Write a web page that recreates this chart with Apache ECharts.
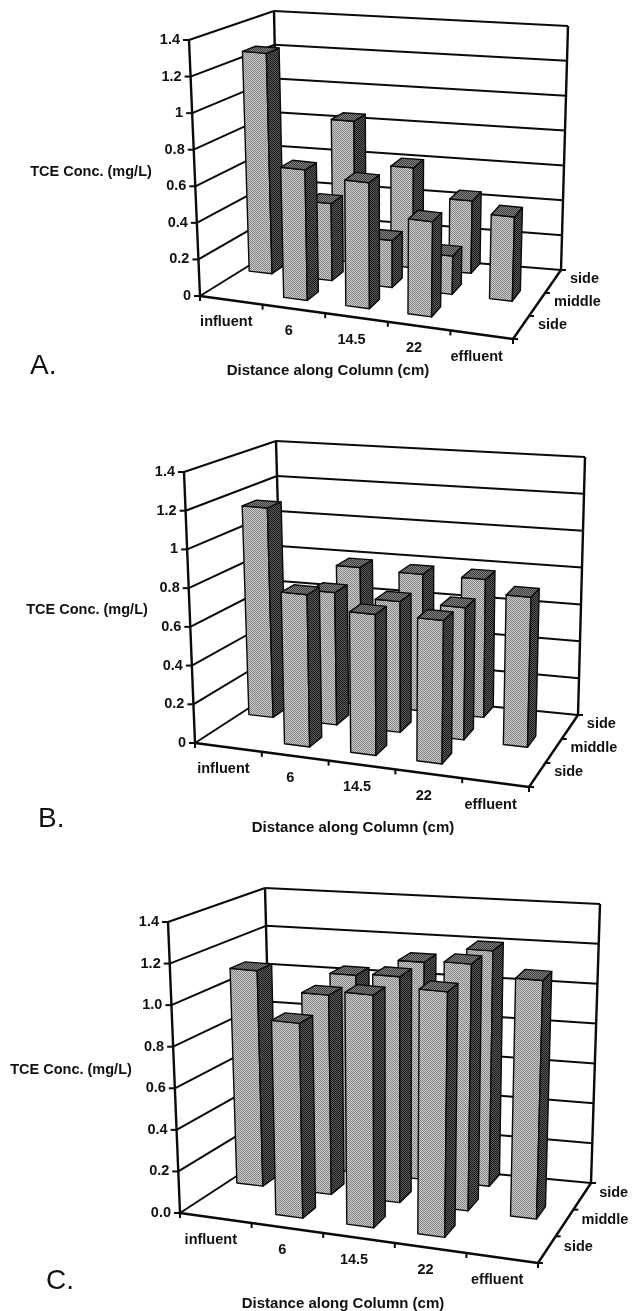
<!DOCTYPE html>
<html><head><meta charset="utf-8">
<style>html,body{margin:0;padding:0;background:#fff}#c{width:632px;height:1311px}</style>
<script src="https://cdn.jsdelivr.net/npm/echarts@6/dist/echarts.min.js"></script>
</head><body><div id="c"></div>
<script>
const categories=['influent','6','14.5','22','effluent'];
const depthLabels=['side','middle','side'];
const yLabelsAB=['0','0.2','0.4','0.6','0.8','1','1.2','1.4'];
const yLabelsC=['0.0','0.2','0.4','0.6','0.8','1.0','1.2','1.4'];
const xTitle='Distance along Column (cm)';
const yTitle='TCE Conc. (mg/L)';

// values by depth row, mg/L
const panelA_back  =[null,0.81,0.57,0.41,null];
const panelA_middle=[1.24,0.43,0.26,0.21,0.46];
const panelA_front =[null,0.71,0.68,0.51,null];
const panelB_back  =[null,0.75,0.74,0.74,null];
const panelB_middle=[1.12,0.70,0.685,0.685,0.77];
const panelB_front =[null,0.78,0.715,0.72,null];
const panelC_back  =[null,1.00,1.09,1.17,null];
const panelC_middle=[1.07,0.98,1.10,1.19,1.14];
const panelC_front =[null,0.93,1.10,1.15,null];

// frame corners of each drawn box: front/back, left/right, bottom/top
const frames=[
 {name:'A.',lx:30,ly:366,xt:[328,371],yt:[91,172],yLabels:yLabelsAB,rows:[panelA_back,panelA_middle,panelA_front],
  flb:[200,296],flt:[189,40],blb:[279,247],blt:[274,11],frb:[513,339],frt:[521,73],brb:[561,270],brt:[568,26]},
 {name:'B.',lx:38,ly:819,xt:[353,828],yt:[87,610],yLabels:yLabelsAB,rows:[panelB_back,panelB_middle,panelB_front],
  flb:[195,743],flt:[184,472],blb:[283,686],blt:[276,441],frb:[529,787],frt:[537,502],brb:[578,715],brt:[585,457]},
 {name:'C.',lx:46,ly:1281,xt:[343,1304],yt:[71,1070],yLabels:yLabelsC,rows:[panelC_back,panelC_middle,panelC_front],
  flb:[180,1213],flt:[168,922],blb:[272,1153],blt:[265,888],frb:[538,1263],frt:[547,958],brb:[591,1183],brt:[600,904]}
];
const rowDepth=[5/6,1/2,1/6];
const rowShift=[-0.008,-0.008,-0.014];
const rowLift=[0.025,0.025,0.018];
const barU=0.038, barW=0.08;
const FONT='"Liberation Sans",Arial,sans-serif';

function pattern(a,b){
  const c=document.createElement('canvas');c.width=2;c.height=2;
  const g=c.getContext('2d');g.fillStyle=a;g.fillRect(0,0,2,2);
  g.fillStyle=b;g.fillRect(0,0,1,1);g.fillRect(1,1,1,1);
  return {image:c,repeat:'repeat'};
}
const faceFill=pattern('#cacaca','#868686');
const sideFill=pattern('#585858','#1c1c1c');
const topFill=pattern('#808080','#404040');

function lerp(a,b,t){return [a[0]+(b[0]-a[0])*t,a[1]+(b[1]-a[1])*t];}
function project(f,u,v,w){
  const fb=lerp(f.flb,f.frb,u), ft=lerp(f.flt,f.frt,u), bb=lerp(f.blb,f.brb,u), bt=lerp(f.blt,f.brt,u);
  return lerp(lerp(fb,ft,v),lerp(bb,bt,v),w);
}
function norm(f,p){
  const L=f.flb[0],W=f.frb[0]-f.flb[0],T=f.flt[1],H=f.flb[1]-f.flt[1];
  return [(p[0]-L)/W,(T+H-p[1])/H];
}
function txt(x,y,text,align,size,weight){
  return {type:'text',x:x,y:y,silent:true,style:{text:text,x:0,y:0,fill:'#111',fontFamily:FONT,fontSize:size||14.5,fontWeight:weight||'bold',textAlign:align||'center',textVerticalAlign:'middle'}};
}
function line(a,b,lw){
  return {type:'line',silent:true,shape:{x1:a[0],y1:a[1],x2:b[0],y2:b[1]},style:{stroke:'#0a0a0a',lineWidth:lw||2}};
}

const grids=[],xAxes=[],yAxes=[],series=[],graphics=[];
frames.forEach((f,pi)=>{
  grids.push({left:f.flb[0],width:f.frb[0]-f.flb[0],top:f.flt[1],height:f.flb[1]-f.flt[1],containLabel:false});
  xAxes.push({type:'value',gridIndex:pi,min:0,max:categories.length,interval:1,show:false});
  yAxes.push({type:'value',gridIndex:pi,min:0,max:1.4,interval:0.2,show:false});

  series.push({type:'custom',xAxisIndex:pi,yAxisIndex:pi,coordinateSystem:'cartesian2d',silent:true,z:1,clip:false,
    data:f.yLabels.map((l,i)=>[0,i*0.2]),
    encode:{x:0,y:1},
    renderItem(params,api){
      const i=params.dataIndex;
      const v=norm(f,api.coord([0,api.value(1)]))[1];
      const fl=project(f,0,v,0),bl=project(f,0,v,1),br=project(f,1,v,1);
      const ch=[line(fl,bl),line(bl,br),line(fl,[fl[0]-6,fl[1]]),txt(fl[0]-9,fl[1],f.yLabels[i],'right')];
      if(i===0){
        const fr=project(f,1,0,0);
        ch.push(line(fl,fr,2.4),line(fr,br,2.4));
        ch.push(line(f.flb,f.flt,2.4),line(f.blb,f.blt,2.4),line(f.brb,f.brt,2.4));
      }
      return {type:'group',children:ch};
    }});

  series.push({type:'custom',xAxisIndex:pi,yAxisIndex:pi,coordinateSystem:'cartesian2d',silent:true,z:1,clip:false,
    data:categories.map((c,i)=>[i+0.5,0]),
    encode:{x:0,y:1},
    renderItem(params,api){
      const i=params.dataIndex;
      const u=norm(f,api.coord([api.value(0),0]))[0];
      const c=project(f,u,0,0);
      const t0=norm(f,api.coord([api.value(0)-0.5,0]))[0];
      const t=project(f,t0,0,0);
      const ch=[line(t,[t[0],t[1]+5]),txt(c[0]-5,c[1]+22,categories[i])];
      if(i===categories.length-1){const e=project(f,1,0,0);ch.push(line(e,[e[0],e[1]+5]));}
      return {type:'group',children:ch};
    }});

  series.push({type:'custom',xAxisIndex:pi,yAxisIndex:pi,coordinateSystem:'cartesian2d',silent:true,z:1,clip:false,
    data:depthLabels.map((c,i)=>[categories.length,0]),
    encode:{x:0,y:1},
    renderItem(params,api){
      const i=params.dataIndex;
      const u=norm(f,api.coord([api.value(0),0]))[0];
      const w=rowDepth[2-i];
      const c=project(f,u,0,w);
      const a=project(f,u,0,i/3),ch=[line(a,[a[0]+5,a[1]]),txt(c[0]+17,c[1]-3,depthLabels[i],'left')];
      if(i===2){const e=project(f,u,0,1);ch.push(line(e,[e[0]+5,e[1]]));}
      return {type:'group',children:ch};
    }});

  const barData=[];
  f.rows.forEach((row,r)=>row.forEach((val,c)=>{if(val!=null)barData.push([c+0.5,val,r]);}));
  series.push({type:'custom',xAxisIndex:pi,yAxisIndex:pi,coordinateSystem:'cartesian2d',silent:true,z:3,clip:false,
    data:barData,
    dimensions:['x','value','row'],
    encode:{x:0,y:1},
    renderItem(params,api){
      const x=api.value(0),val=api.value(1),r=api.value(2),w=rowDepth[r];
      const nb=norm(f,api.coord([x,0])),nt=norm(f,api.coord([x,val]));
      const u=nb[0]+rowShift[r],v0=rowLift[r],v=nt[1]+v0;
      const P=(du,vv,dw)=>project(f,u+du,vv,w+dw);
      const a=P(-barU,v0,-barW),b=P(barU,v0,-barW),c=P(barU,v,-barW),d=P(-barU,v,-barW);
      const e=P(barU,v0,barW),g=P(barU,v,barW),h=P(-barU,v,barW);
      const s={stroke:'#0a0a0a',lineWidth:1.4,lineJoin:'round'};
      return {type:'group',children:[
        {type:'polygon',silent:true,shape:{points:[a,b,c,d]},style:Object.assign({fill:faceFill},s)},
        {type:'polygon',silent:true,shape:{points:[b,e,g,c]},style:Object.assign({fill:sideFill},s)},
        {type:'polygon',silent:true,shape:{points:[d,c,g,h]},style:Object.assign({fill:topFill},s)}
      ]};
    }});

  graphics.push({type:'text',x:f.lx,y:f.ly,style:{text:f.name,fontFamily:FONT,fontSize:28,fill:'#111',textVerticalAlign:'middle'}});
  graphics.push({type:'text',x:f.xt[0],y:f.xt[1],style:{text:xTitle,fontFamily:FONT,fontSize:15,fontWeight:'bold',fill:'#111',textAlign:'center',textVerticalAlign:'middle'}});
  graphics.push({type:'text',x:f.yt[0],y:f.yt[1],style:{text:yTitle,fontFamily:FONT,fontSize:14.5,fontWeight:'bold',fill:'#111',textAlign:'center',textVerticalAlign:'middle'}});
});

const chart=echarts.init(document.getElementById('c'),null,{renderer:'canvas'});
chart.setOption({animation:false,backgroundColor:'#fff',tooltip:{show:false},grid:grids,xAxis:xAxes,yAxis:yAxes,series:series,graphic:graphics});
</script></body></html>
